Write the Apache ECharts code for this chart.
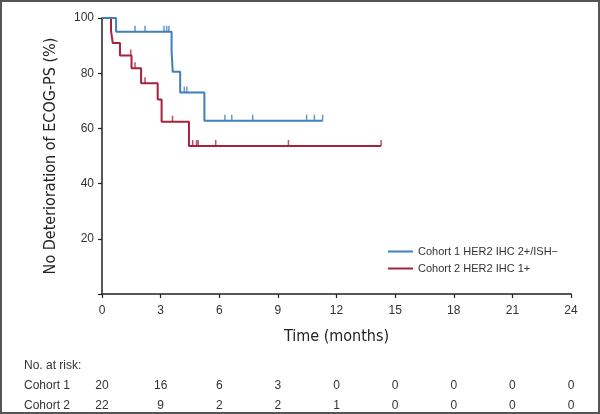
<!DOCTYPE html>
<html><head><meta charset="utf-8">
<script src="https://cdn.jsdelivr.net/npm/echarts@6/dist/echarts.min.js"></script>
<style>
html,body{margin:0;padding:0;background:#fff;}
#wrap{position:absolute;left:0;top:0;width:600px;height:414px;border:2px solid #555;box-sizing:border-box;}
#c{position:absolute;left:0;top:0;width:600px;height:414px;}
</style></head>
<body>
<div id="c"></div><div id="wrap"></div>
<script>
// Kaplan-Meier step data (months, % no deterioration)
const cohort1Times = [0, 0.72, 3.56, 3.62, 4.0, 5.24, 11.29];
const cohort1Surv  = [100, 95, 88, 80.5, 73, 62.8, 62.8];
const cohort1Censor = [1.69, 2.2, 3.17, 3.31, 3.42, 4.21, 4.34, 6.29, 6.64, 7.71, 10.47, 10.87, 11.29];

const cohort2Times = [0, 0.46, 0.55, 0.92, 1.51, 2.0, 2.85, 3.05, 4.45, 14.28];
const cohort2Surv  = [100, 95.5, 90.9, 86.4, 81.8, 76.4, 70.5, 62.4, 53.6, 53.6];
const cohort2Censor = [1.47, 1.69, 2.2, 3.61, 4.64, 4.84, 4.92, 5.82, 9.54, 14.28];

const seriesNames = ['Cohort 1 HER2 IHC 2+/ISH\u2212', 'Cohort 2 HER2 IHC 1+'];
const colors = ['#3f7fbf', '#a8213d'];

const xTicks = [0, 3, 6, 9, 12, 15, 18, 21, 24];
const yTicks = [20, 40, 60, 80, 100];
const riskLabels = ['Cohort 1', 'Cohort 2'];
const risk1 = [20, 16, 6, 3, 0, 0, 0, 0, 0];
const risk2 = [22, 9, 2, 2, 1, 0, 0, 0, 0];

function survAt(times, surv, t) {
  let v = surv[0];
  for (let i = 0; i < times.length; i++) if (times[i] <= t) v = surv[i];
  return v;
}
const zip = (a, b) => a.map((v, i) => [v, b[i]]);

const chart = echarts.init(document.getElementById('c'), null, {renderer: 'canvas'});
const narrow = '"Liberation Sans Narrow","DejaVu Sans Condensed",sans-serif';
const regular = '"Liberation Sans",Arial,sans-serif';

const censorSymbol = 'rect';
const option = {
  animation: false,
  grid: {left: 102, right: 29, top: 18, bottom: 120},
  legend: {
    data: seriesNames,
    orient: 'vertical', left: 383, top: 241,
    itemWidth: 25, itemHeight: 2, itemGap: 6,
    icon: 'rect',
    textStyle: {fontFamily: regular, fontSize: 11, color: '#333'}
  },
  xAxis: {
    type: 'value', min: 0, max: 24, interval: 3,
    name: 'Time (months)', nameLocation: 'middle', nameGap: 35,
    nameTextStyle: {fontFamily: narrow, fontSize: 16, color: '#222'},
    axisLine: {lineStyle: {color: '#222', width: 1.5}},
    axisTick: {show: true, length: 4, lineStyle: {color: '#222', width: 1.2}},
    axisLabel: {fontFamily: regular, fontSize: 12, color: '#333', margin: 11},
    splitLine: {show: false}
  },
  yAxis: {
    type: 'value', min: 0, max: 100, interval: 20,
    name: 'No Deterioration of ECOG-PS (%)', nameLocation: 'middle', nameGap: 43, nameRotate: 90,
    nameTextStyle: {fontFamily: narrow, fontSize: 16, color: '#222'},
    axisLine: {lineStyle: {color: '#222', width: 1.5}},
    axisTick: {show: true, length: 4, lineStyle: {color: '#222', width: 1.2}},
    axisLabel: {fontFamily: regular, fontSize: 12, color: '#333', margin: 8,
      formatter: v => (yTicks.indexOf(v) >= 0 ? String(v) : '')},
    splitLine: {show: false}
  },
  series: [
    {name: seriesNames[0], type: 'line', step: 'end', data: zip(cohort1Times, cohort1Surv),
     symbol: 'none', lineStyle: {color: colors[0], width: 2}, itemStyle: {color: colors[0]}, z: 3},
    {name: seriesNames[1], type: 'line', step: 'end', data: zip(cohort2Times, cohort2Surv),
     symbol: 'none', lineStyle: {color: colors[1], width: 2}, itemStyle: {color: colors[1]}, z: 2},
    {name: 'c1cens', type: 'scatter', data: cohort1Censor.map(t => [t, survAt(cohort1Times, cohort1Surv, t)]),
     symbol: censorSymbol, symbolSize: [1.5, 6], symbolOffset: [0, -3], itemStyle: {color: colors[0]}, z: 4},
    {name: 'c2cens', type: 'scatter', data: cohort2Censor.map(t => [t, survAt(cohort2Times, cohort2Surv, t)]),
     symbol: censorSymbol, symbolSize: [1.5, 6], symbolOffset: [0, -3], itemStyle: {color: colors[1]}, z: 4}
  ]
};
chart.setOption(option);

// number-at-risk table aligned to the x axis
const g = [];
const txt = {fontFamily: regular, fontSize: 12, fill: '#333'};
g.push({type: 'text', left: 24, top: 360, style: Object.assign({text: 'No. at risk:'}, txt)});
const rowsY = [380, 400];
[risk1, risk2].forEach((row, r) => {
  g.push({type: 'text', left: 24, top: rowsY[r], style: Object.assign({text: riskLabels[r]}, txt)});
  row.forEach((n, i) => {
    const px = chart.convertToPixel({xAxisIndex: 0}, xTicks[i]);
    g.push({type: 'text', x: px, y: rowsY[r], style: Object.assign({text: String(n), align: 'center', verticalAlign: 'top'}, txt)});
  });
});
chart.setOption({graphic: g});
</script>
</body></html>
